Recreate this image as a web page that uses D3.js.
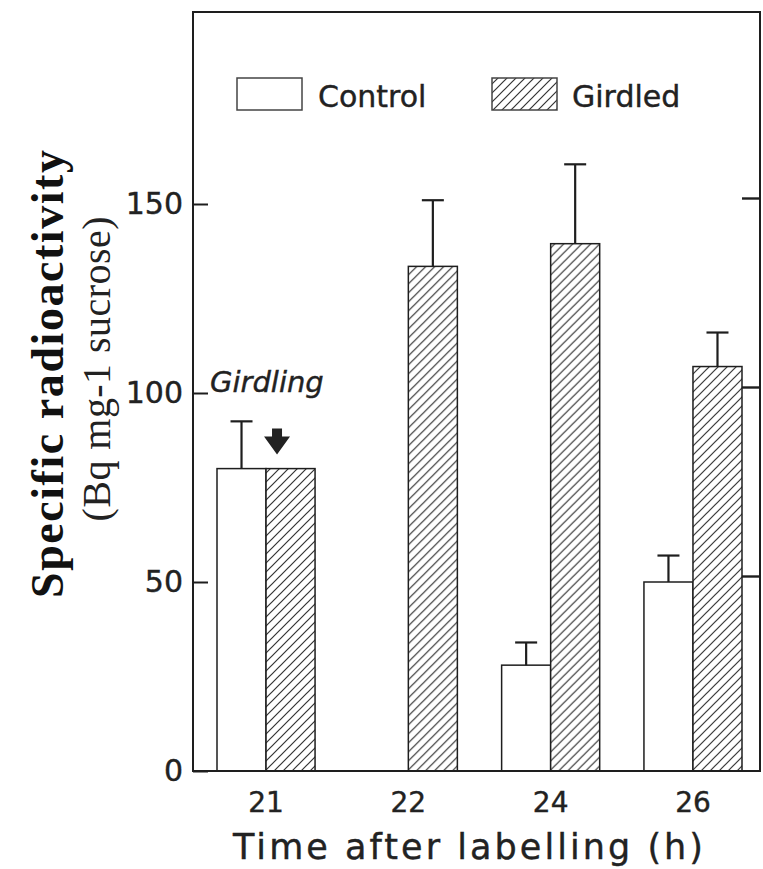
<!DOCTYPE html>
<html>
<head>
<meta charset="utf-8">
<script src="https://cdn.jsdelivr.net/npm/d3@7"></script>
<style>
  html, body { margin: 0; padding: 0; background: #fff; }
  svg { display: block; }
</style>
</head>
<body>
<svg id="chart" width="763" height="869"></svg>
<script>
// ---- data ----
const times = ['21', '22', '24', '26'];
const seriesNames = ['Control', 'Girdled'];
const controlValues = [80, null, 28, 50];
const controlErrors = [12.5, null, 6, 7];
const girdledValues = [80, 133.5, 139.5, 107];
const girdledErrors = [null, 17.5, 21, 9];
const yTicks = [0, 50, 100, 150];
const rightTicks = [50, 100, 150];

// ---- layout ----
const frame = { left: 193, right: 760, top: 12, bottom: 771 };
const ink = '#1e1e1e';

const svg = d3.select('#chart');

const defs = svg.append('defs');
const pat = defs.append('pattern')
  .attr('id', 'hatch')
  .attr('patternUnits', 'userSpaceOnUse')
  .attr('width', 9).attr('height', 9);
pat.append('rect').attr('width', 9).attr('height', 9).attr('fill', '#fff');
pat.append('path')
  .attr('d', 'M-1,1 l2,-2 M0,9 l9,-9 M8,10 l2,-2')
  .attr('stroke', '#333').attr('stroke-width', 1.2);

const y = d3.scaleLinear().domain([0, 150]).range([frame.bottom, 204]);
const x0 = d3.scaleBand().domain(times).range([217, 742]).paddingInner(0.311).paddingOuter(0);
const x1 = d3.scaleBand().domain(seriesNames).range([0, x0.bandwidth()]);

// series table
const rows = times.map((t, i) => ({
  t,
  bars: [
    { s: 'Control', v: controlValues[i], e: controlErrors[i] },
    { s: 'Girdled', v: girdledValues[i], e: girdledErrors[i] }
  ]
}));

// bars
const groups = svg.append('g').selectAll('g').data(rows).join('g')
  .attr('transform', d => `translate(${x0(d.t)},0)`);

groups.selectAll('rect').data(d => d.bars.filter(b => b.v != null)).join('rect')
  .attr('x', b => x1(b.s))
  .attr('y', b => y(b.v))
  .attr('width', x1.bandwidth())
  .attr('height', b => y(0) - y(b.v))
  .attr('fill', b => b.s === 'Control' ? '#fff' : 'url(#hatch)')
  .attr('stroke', ink).attr('stroke-width', 1.5);

// error bars
const eb = groups.selectAll('g.err').data(d => d.bars.filter(b => b.v != null && b.e != null)).join('g')
  .attr('class', 'err');
eb.append('line')
  .attr('x1', b => x1(b.s) + x1.bandwidth() / 2)
  .attr('x2', b => x1(b.s) + x1.bandwidth() / 2)
  .attr('y1', b => y(b.v))
  .attr('y2', b => y(b.v + b.e))
  .attr('stroke', ink).attr('stroke-width', 2.2);
eb.append('line')
  .attr('x1', b => x1(b.s) + x1.bandwidth() / 2 - 11)
  .attr('x2', b => x1(b.s) + x1.bandwidth() / 2 + 11)
  .attr('y1', b => y(b.v + b.e))
  .attr('y2', b => y(b.v + b.e))
  .attr('stroke', ink).attr('stroke-width', 2.2);

// frame
svg.append('rect')
  .attr('x', frame.left).attr('y', frame.top)
  .attr('width', frame.right - frame.left).attr('height', frame.bottom - frame.top)
  .attr('fill', 'none').attr('stroke', ink).attr('stroke-width', 2);

const sansText = sel => sel
  .attr('font-family', 'DejaVu Sans').attr('fill', '#222')
  .attr('stroke', '#222').attr('stroke-width', 0.4);

// left axis
const yAxis = svg.append('g')
  .attr('transform', `translate(${frame.left},0)`)
  .call(d3.axisLeft(y).tickValues(yTicks).tickSize(-15).tickPadding(10));
yAxis.select('.domain').remove();
yAxis.selectAll('line').attr('stroke', ink).attr('stroke-width', 2);
yAxis.selectAll('text').call(sansText).attr('font-size', 30);

// right axis ticks
const rAxis = svg.append('g')
  .attr('transform', `translate(${frame.right},-6)`)
  .call(d3.axisRight(y).tickValues(rightTicks).tickSize(-18).tickFormat(''));
rAxis.select('.domain').remove();
rAxis.selectAll('line').attr('stroke', ink).attr('stroke-width', 2.4);

// bottom axis
const xAxis = svg.append('g')
  .attr('transform', `translate(0,${frame.bottom})`)
  .call(d3.axisBottom(x0).tickSize(0).tickPadding(21));
xAxis.select('.domain').remove();
xAxis.selectAll('text').call(sansText).attr('font-size', 28);

// axis titles
svg.append('text')
  .attr('transform', 'translate(63,374) rotate(-90)')
  .attr('text-anchor', 'middle')
  .attr('font-family', 'Liberation Serif').attr('font-weight', 'bold')
  .attr('font-size', 46).attr('fill', '#111')
  .attr('textLength', 448).attr('lengthAdjust', 'spacing')
  .text('Specific radioactivity');
svg.append('text')
  .attr('transform', 'translate(110,369) rotate(-90)')
  .attr('text-anchor', 'middle')
  .attr('font-family', 'Liberation Serif')
  .attr('font-size', 40).attr('fill', '#222')
  .attr('textLength', 305).attr('lengthAdjust', 'spacing')
  .text('(Bq mg-1 sucrose)');
svg.append('text')
  .attr('x', 468).attr('y', 859)
  .attr('text-anchor', 'middle')
  .call(sansText)
  .attr('font-size', 35)
  .attr('textLength', 470).attr('lengthAdjust', 'spacing')
  .text('Time after labelling (h)');

// legend
const legend = svg.append('g');
const legendItems = [
  { s: seriesNames[0], bx: 237, tx: 318 },
  { s: seriesNames[1], bx: 492, tx: 572 }
];
legend.selectAll('rect').data(legendItems).join('rect')
  .attr('x', d => d.bx).attr('y', 78)
  .attr('width', 65).attr('height', 32)
  .attr('fill', d => d.s === 'Control' ? '#fff' : 'url(#hatch)')
  .attr('stroke', '#444').attr('stroke-width', 1.5);
legend.selectAll('text').data(legendItems).join('text')
  .attr('x', d => d.tx).attr('y', 107)
  .call(sansText).attr('font-size', 30)
  .text(d => d.s);

// girdling annotation
svg.append('text')
  .attr('x', 210).attr('y', y(100) - 1)
  .call(sansText).attr('font-style', 'italic')
  .attr('font-size', 29)
  .text('Girdling');
const ax = x0(times[0]) + x0.bandwidth() / 2 + 11;
const aTop = y(girdledValues[0]) - 40;
svg.append('path')
  .attr('d', `M${ax - 5},${aTop} h10 v8 h8 l-13,18 l-13,-18 h8 z`)
  .attr('fill', '#222');
</script>
</body>
</html>
